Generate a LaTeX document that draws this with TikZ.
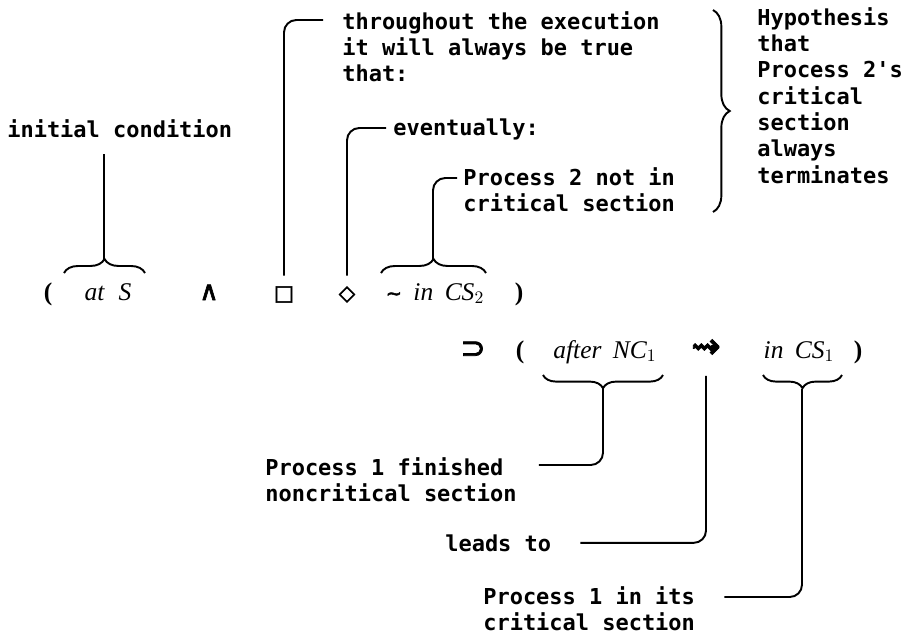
\documentclass[tikz,border=0pt]{standalone}
\usepackage{amssymb}
\usepackage{fontspec}
\setmonofont{DejaVu Sans Mono}
\newfontfamily\formfont{Liberation Serif}
\newfontfamily\symfont{DejaVu Sans}
\newfontfamily\heavysym{DejaVu Sans}[FakeBold=2.5]
\usetikzlibrary{decorations.pathreplacing}

\tikzset{
	note/.style={font=\fontsize{12.5}{15}\selectfont\ttfamily\bfseries, align=left, inner sep=0pt, anchor=north west},
	term/.style={font=\fontsize{14.5}{16}\selectfont\formfont, inner sep=0pt, anchor=base},
	op/.style={font=\fontsize{#1}{#1}\selectfont\symfont, inner sep=0pt, anchor=base},
	heavyop/.style={font=\fontsize{#1}{#1}\selectfont\heavysym, inner sep=0pt, anchor=base},
	leader/.style={line width=1.1pt, rounded corners=7pt},
	curly/.style={decorate, decoration={brace, amplitude=#1}, line width=1.1pt}
}

\begin{document}
\begin{tikzpicture}[x=0.02cm, y=-0.02cm]
	\useasboundingbox (0,0) rectangle (909,637);
	% comments on the formula
	\node[note] (init) at (7,119) {initial condition};
	\node[note] (thr) at (342,11) {throughout the execution\\it will always be true\\that:};
	\node[note] (ev) at (393,118) {eventually:};
	\node[note] (p2) at (463,167) {Process 2 not in\\critical section};
	\node[note] (hyp) at (757,7) {Hypothesis\\that\\Process 2's\\critical\\section\\always\\terminates};
	\node[note] (fin) at (265,457) {Process 1 finished\\noncritical section};
	\node[note] (ld) at (445,534) {leads to};
	\node[note] (cs) at (483,586) {Process 1 in its\\critical section};
	% the formula, first line
	\node[term] (lp1) at (48,300) {\bfseries(};
	\node[term] (atS) at (108,300) {\itshape at\hspace{0.55em}S};
	\node[heavyop=15] (and) at (209,300) {∧};
	\node[heavyop=12] (box) at (284,300) {□};
	\node[heavyop=12] (dia) at (347,300) {◇};
	\node[term] (nin) at (435,300) {{\heavysym\fontsize{11}{11}\selectfont∼}\hspace{0.45em}\itshape in\hspace{0.45em}CS$_2$};
	\node[term] (rp1) at (519,300) {\bfseries)};
	% second line
	\node[heavyop=17] (imp) at (473,358) {⊃};
	\node[term] (lp2) at (520,358) {\bfseries(};
	\node[term] (aft) at (605,358) {\itshape after\hspace{0.45em}NC$_1$};
	\node[heavyop=20] (lto) at (706,358) {⇝};
	\node[term] (ics) at (799,358) {\itshape in\hspace{0.45em}CS$_1$};
	\node[term] (rp2) at (858,358) {\bfseries)};
	% braces
	\draw[curly=8pt] (64,273) -- (145,273);
	\coordinate (tipS) at (104,259);
	\draw[curly=8pt] (381,273) -- (486,273);
	\coordinate (tipN) at (433,259);
	\draw[curly=7.5pt] (663,375) -- (543,375);
	\coordinate (tipA) at (603,389);
	\draw[curly=7.5pt] (842,375) -- (763,375);
	\coordinate (tipC) at (802,389);
	\draw[curly=9.5pt] (713,10) -- (713,212);
	% leaders
	\draw[leader] (tipS) -- ([yshift=-9pt]tipS |- init.south);
	\draw[leader, shorten <=6pt] (box.north) |- ([shift={(-19,9)}]thr.north west);
	\draw[leader, shorten <=6pt] (dia.north) |- ([shift={(-7,10)}]ev.north west);
	\draw[leader] (tipN) |- ([shift={(-6,11)}]p2.north west);
	\draw[leader] (tipA) |- ([shift={(22,8)}]fin.north east);
	\draw[leader, shorten <=10pt] (lto.south) |- ([shift={(29,0)}]ld.east);
	\draw[leader] (tipC) |- ([shift={(29,11)}]cs.north east);
\end{tikzpicture}
\end{document}
